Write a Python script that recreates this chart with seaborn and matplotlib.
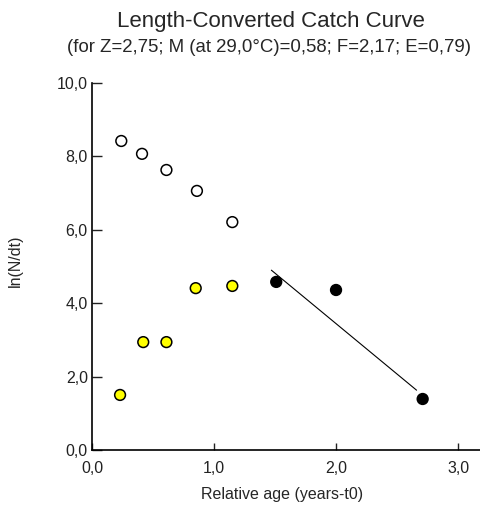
import numpy as np
import pandas as pd
import matplotlib
matplotlib.use("Agg")
import matplotlib.pyplot as plt
import seaborn as sns
from matplotlib.ticker import FuncFormatter

# points not used in the regression (open circles)
open_age = [0.24, 0.41, 0.61, 0.86, 1.15]
open_lnn = [8.42, 8.07, 7.63, 7.06, 6.21]

# points not fully recruited (yellow)
yellow_age = [0.23, 0.42, 0.61, 0.85, 1.15]
yellow_lnn = [1.50, 2.94, 2.94, 4.41, 4.47]

# points used in the regression (black)
black_age = [1.51, 2.00, 2.71]
black_lnn = [4.58, 4.36, 1.39]

# fitted line endpoints
fit_age = [1.47, 2.66]
fit_lnn = [4.90, 1.63]

title = "Length-Converted Catch Curve"
subtitle = "(for Z=2,75; M (at 29,0\u00b0C)=0,58; F=2,17; E=0,79)"

df = pd.DataFrame({
    "age": open_age + yellow_age + black_age,
    "lnn": open_lnn + yellow_lnn + black_lnn,
    "group": ["open"] * len(open_age) + ["yellow"] * len(yellow_age) + ["black"] * len(black_age),
})

sns.set_style("white")
plt.rcParams["font.family"] = ["Liberation Sans", "DejaVu Sans"]

fig = plt.figure(figsize=(4.8, 5.09), dpi=100)
ax = fig.add_axes([92 / 480, 1 - 450 / 509, 1 - 92 / 480, (450 - 83) / 509])

ax.plot(fit_age, fit_lnn, color="black", lw=0.8, zorder=2)
sns.scatterplot(
    data=df, x="age", y="lnn", hue="group",
    palette={"open": "white", "yellow": "#ffff00", "black": "black"},
    edgecolor="black", linewidth=1.1, s=60, legend=False, ax=ax, zorder=3,
)

ax.set_xlim(0, 3.18)
ax.set_ylim(0, 10)
ax.set_xticks([0, 1, 2, 3])
ax.set_yticks([0, 2, 4, 6, 8, 10])
fmt = FuncFormatter(lambda v, p: f"{v:.1f}".replace(".", ","))
ax.xaxis.set_major_formatter(fmt)
ax.yaxis.set_major_formatter(fmt)
ax.tick_params(axis="y", direction="in", length=7, width=1, labelsize=11.5, pad=3, colors="#222222")
ax.tick_params(axis="x", direction="in", length=5, width=1, labelsize=11.5, pad=8, colors="#222222")
ax.tick_params(left=True, bottom=True)
for side in ["top", "right"]:
    ax.spines[side].set_visible(False)
for side in ["left", "bottom"]:
    ax.spines[side].set_color("black")
    ax.spines[side].set_linewidth(1.2)

ax.set_xlabel("Relative age (years-t0)", fontsize=11.5)
ax.set_ylabel("ln(N/dt)", fontsize=11.5)
ax.xaxis.label.set_va("center")
ax.yaxis.label.set_va("center")
ax.xaxis.set_label_coords((282 - 92) / 388, (450 - 494) / 367)
ax.yaxis.set_label_coords((15 - 92) / 388, (450 - 261) / 367)

fig.text(271 / 480, 1 - 22 / 509, title, ha="center", va="center", fontsize=16)
fig.text(269 / 480, 1 - 47 / 509, subtitle, ha="center", va="center", fontsize=13.4)

fig.savefig("out.png", dpi=100)
